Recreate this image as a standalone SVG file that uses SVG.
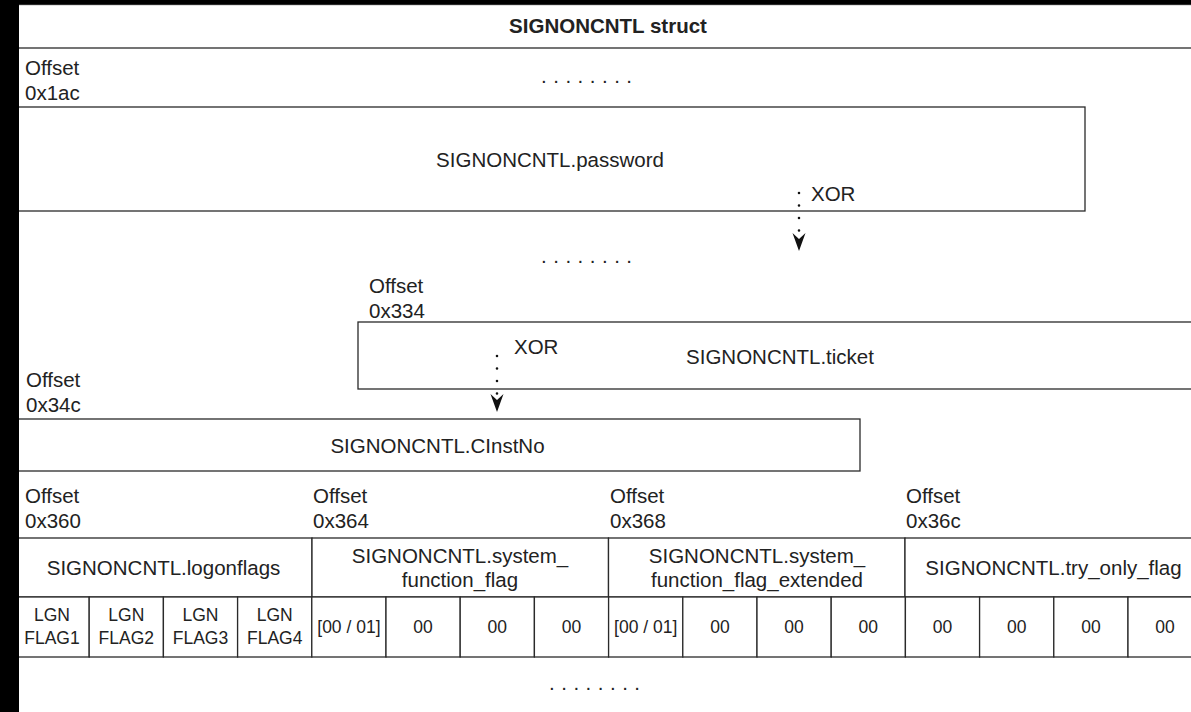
<svg xmlns="http://www.w3.org/2000/svg" width="1191" height="712" viewBox="0 0 1191 712">
<style>
.t{font-family:"Liberation Sans",Arial,sans-serif;font-size:20.5px;fill:#222}
.c{font-family:"Liberation Sans",Arial,sans-serif;font-size:17.5px;fill:#222;text-anchor:middle}
.m{text-anchor:middle}
.b{font-weight:bold}
.dots{letter-spacing:6.5px}
.box{fill:#fff;stroke:#2a2a2a;stroke-width:1.3}
.dot{stroke:#111;stroke-width:2.6;stroke-linecap:round;stroke-dasharray:0 12.5;fill:none}
.ah{fill:#111}
</style>
<rect x="0" y="0" width="1191" height="712" fill="#fff"/>
<g id="title">
<rect class="box" x="15" y="4.5" width="1190" height="43.5"/>
<text class="t m b" x="608" y="33">SIGNONCNTL struct</text>
</g>
<g id="off1ac">
<text class="t" x="25" y="75">Offset</text>
<text class="t" x="25" y="100">0x1ac</text>
</g>
<text class="t dots" x="541" y="83">........</text>
<g id="password">
<rect class="box" x="15" y="107" width="1070" height="104"/>
<text class="t m" x="550" y="167">SIGNONCNTL.password</text>
</g>
<text class="t dots" x="541" y="263">........</text>
<g id="off334">
<text class="t" x="369" y="293">Offset</text>
<text class="t" x="369" y="318">0x334</text>
</g>
<g id="ticket">
<rect class="box" x="358" y="322" width="848" height="67"/>
<text class="t m" x="780" y="364">SIGNONCNTL.ticket</text>
</g>
<g id="off34c">
<text class="t" x="26" y="387">Offset</text>
<text class="t" x="26" y="412">0x34c</text>
</g>
<g id="cinstno">
<rect class="box" x="15" y="419" width="845" height="52"/>
<text class="t m" x="437.5" y="453">SIGNONCNTL.CInstNo</text>
</g>
<g id="connectors">
<path class="dot" d="M799,193 V236"/>
<path class="ah" d="M799,251 L792.5,233 L799,239 L805.5,233 Z"/>
<text class="t" x="811" y="201">XOR</text>
<path class="dot" d="M497,356 V397"/>
<path class="ah" d="M497,412 L490.5,394 L497,400 L503.5,394 Z"/>
<text class="t" x="514" y="354">XOR</text>
</g>
<g id="offsets">
<text class="t" x="25" y="503">Offset</text>
<text class="t" x="25" y="528">0x360</text>
<text class="t" x="313" y="503">Offset</text>
<text class="t" x="313" y="528">0x364</text>
<text class="t" x="610" y="503">Offset</text>
<text class="t" x="610" y="528">0x368</text>
<text class="t" x="906" y="503">Offset</text>
<text class="t" x="906" y="528">0x36c</text>
</g>
<g id="logonflags">
<rect class="box" x="15" y="538" width="297" height="59"/>
<text class="t m" x="163.5" y="575">SIGNONCNTL.logonflags</text>
</g>
<g id="sysflag">
<rect class="box" x="312" y="538" width="296.5" height="59"/>
<text class="t m" x="460" y="563">SIGNONCNTL.system_</text>
<text class="t m" x="460" y="587">function_flag</text>
</g>
<g id="sysflagext">
<rect class="box" x="608.5" y="538" width="296.5" height="59"/>
<text class="t m" x="757" y="563">SIGNONCNTL.system_</text>
<text class="t m" x="757" y="587">function_flag_extended</text>
</g>
<g id="tryonly">
<rect class="box" x="905" y="538" width="300" height="59"/>
<text class="t m" x="1053.5" y="575">SIGNONCNTL.try_only_flag</text>
</g>
<g id="bytes">
<rect class="box" x="15" y="597" width="74.2" height="60"/>
<rect class="box" x="89.2" y="597" width="74.2" height="60"/>
<rect class="box" x="163.4" y="597" width="74.2" height="60"/>
<rect class="box" x="237.6" y="597" width="74.2" height="60"/>
<rect class="box" x="311.8" y="597" width="74.2" height="60"/>
<rect class="box" x="386" y="597" width="74.2" height="60"/>
<rect class="box" x="460.2" y="597" width="74.2" height="60"/>
<rect class="box" x="534.4" y="597" width="74.2" height="60"/>
<rect class="box" x="608.6" y="597" width="74.2" height="60"/>
<rect class="box" x="682.8" y="597" width="74.2" height="60"/>
<rect class="box" x="757" y="597" width="74.2" height="60"/>
<rect class="box" x="831.2" y="597" width="74.2" height="60"/>
<rect class="box" x="905.4" y="597" width="74.2" height="60"/>
<rect class="box" x="979.6" y="597" width="74.2" height="60"/>
<rect class="box" x="1053.8" y="597" width="74.2" height="60"/>
<rect class="box" x="1128" y="597" width="74.2" height="60"/>
<text class="c" x="52" y="621">LGN</text><text class="c" x="52" y="644">FLAG1</text>
<text class="c" x="126.3" y="621">LGN</text><text class="c" x="126.3" y="644">FLAG2</text>
<text class="c" x="200.5" y="621">LGN</text><text class="c" x="200.5" y="644">FLAG3</text>
<text class="c" x="274.7" y="621">LGN</text><text class="c" x="274.7" y="644">FLAG4</text>
<text class="c" x="348.9" y="633">[00 / 01]</text>
<text class="c" x="423.1" y="633">00</text>
<text class="c" x="497.3" y="633">00</text>
<text class="c" x="571.5" y="633">00</text>
<text class="c" x="645.7" y="633">[00 / 01]</text>
<text class="c" x="719.9" y="633">00</text>
<text class="c" x="794.1" y="633">00</text>
<text class="c" x="868.3" y="633">00</text>
<text class="c" x="942.5" y="633">00</text>
<text class="c" x="1016.7" y="633">00</text>
<text class="c" x="1090.9" y="633">00</text>
<text class="c" x="1165.1" y="633">00</text>
</g>
<text class="t dots" x="549" y="690">........</text>
<rect x="0" y="0" width="19" height="712" fill="#000"/>
<rect x="0" y="0" width="1191" height="4" fill="#000"/>
</svg>
